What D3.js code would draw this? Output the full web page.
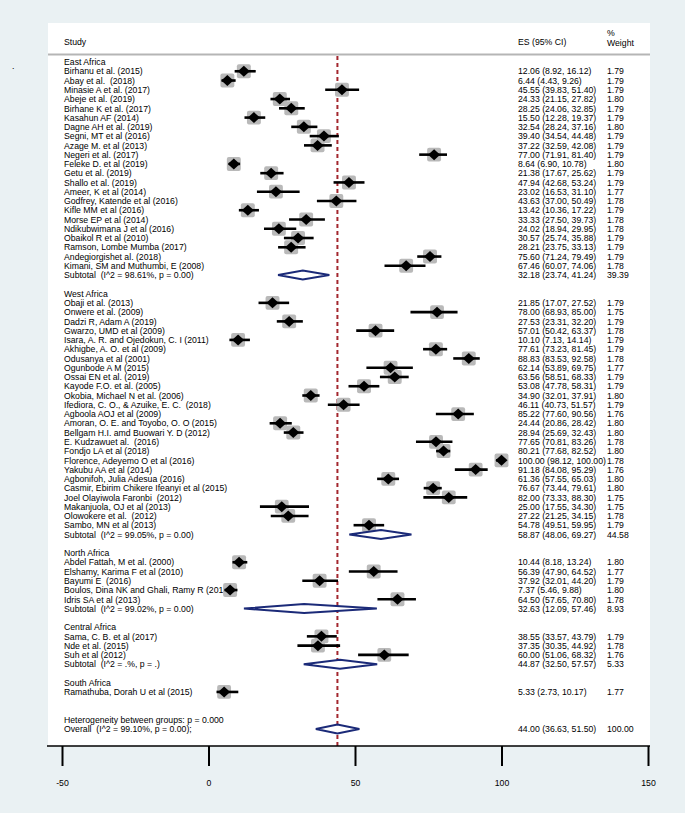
<!DOCTYPE html>
<html>
<head>
<meta charset="utf-8">
<script src="https://cdn.jsdelivr.net/npm/d3@7"></script>
<style>
  body { margin: 0; background: #eaf1f3; }
  text { font-family: "Liberation Sans", Arial, sans-serif; font-size: 8.7px; fill: #000; white-space: pre; }
</style>
</head>
<body>
<svg width="685" height="813"></svg>
<script>
// region headings and how many studies sit under each
var groups = ["East Africa", "West Africa", "North Africa", "Central Africa", "South Africa"];
var groupSizes = [22, 25, 5, 3, 1];

// study labels, in plot order
var studies = [
  "Birhanu et al. (2015)", "Abay et al.  (2018)", "Minasie A et al. (2017)", "Abeje et al. (2019)",
  "Birhane K et al. (2017)", "Kasahun AF (2014)", "Dagne AH et al. (2019)", "Segni, MT et al (2016)",
  "Azage M. et al (2013)", "Negeri et al. (2017)", "Feleke D. et al (2019)", "Getu et al. (2019)",
  "Shallo et al. (2019)", "Ameer, K et al (2014)", "Godfrey, Katende et al (2016)", "Kifle MM et al (2016)",
  "Morse EP et al (2014)", "Ndikubwimana J et al (2016)", "Obaikol R et al (2010)", "Ramson, Lombe Mumba (2017)",
  "Andegiorgishet al. (2018)", "Kimani, SM and Muthumbi, E (2008)",
  "Obaji et al. (2013)", "Onwere et al. (2009)", "Dadzi R, Adam A (2019)", "Gwarzo, UMD et al (2009)",
  "Isara, A. R. and Ojedokun, C. I (2011)", "Akhigbe, A. O. et al (2009)", "Odusanya et al (2001)",
  "Ogunbode A M (2015)", "Ossai EN et al. (2019)", "Kayode F.O. et al. (2005)", "Okobia, Michael N et al. (2006)",
  "Ifediora, C. O., & Azuike, E. C.  (2018)", "Agboola AOJ et al (2009)", "Amoran, O. E. and Toyobo, O. O (2015)",
  "Bellgam H.I. amd Buowari Y. D (2012)", "E. Kudzawuet al.  (2016)", "Fondjo LA et al (2018)",
  "Florence, Adeyemo O et al (2016)", "Yakubu AA et al (2014)", "Agbonifoh, Julia Adesua (2016)",
  "Casmir, Ebirim Chikere Ifeanyi et al (2015)", "Joel Olayiwola Faronbi  (2012)", "Makanjuola, OJ et al (2013)",
  "Olowokere et al.  (2012)", "Sambo, MN et al (2013)",
  "Abdel Fattah, M et al. (2000)", "Elshamy, Karima F et al (2010)", "Bayumi E  (2016)",
  "Boulos, Dina NK and Ghali, Ramy R (2013)", "Idris SA et al (2013)",
  "Sama, C. B. et al (2017)", "Nde et al. (2015)", "Suh et al (2012)",
  "Ramathuba, Dorah U et al (2015)"
];
var es = [12.06, 6.44, 45.55, 24.33, 28.25, 15.50, 32.54, 39.40, 37.22, 77.00, 8.64, 21.38, 47.94, 23.02, 43.63, 13.42,
  33.33, 24.02, 30.57, 28.21, 75.60, 67.46,
  21.85, 78.00, 27.53, 57.01, 10.10, 77.61, 88.83, 62.14, 63.56, 53.08, 34.90, 46.11, 85.22, 24.44, 28.94, 77.65,
  80.21, 100.00, 91.18, 61.36, 76.67, 82.00, 25.00, 27.22, 54.78,
  10.44, 56.39, 37.92, 7.37, 64.50,
  38.55, 37.35, 60.00,
  5.33];
var lo = [8.92, 4.43, 39.83, 21.15, 24.06, 12.28, 28.24, 34.54, 32.59, 71.91, 6.90, 17.67, 42.68, 16.53, 37.00, 10.36,
  27.50, 18.94, 25.74, 23.75, 71.24, 60.07,
  17.07, 68.93, 23.31, 50.42, 7.13, 73.23, 83.53, 53.89, 58.51, 47.78, 32.01, 40.73, 77.60, 20.86, 25.69, 70.81,
  77.68, 98.12, 84.08, 57.55, 73.44, 73.33, 17.55, 21.25, 49.51,
  8.18, 47.90, 32.01, 5.46, 57.65,
  33.57, 30.35, 51.06,
  2.73];
var hi = [16.12, 9.26, 51.40, 27.82, 32.85, 19.37, 37.16, 44.48, 42.08, 81.40, 10.78, 25.62, 53.24, 31.10, 50.49, 17.22,
  39.73, 29.95, 35.88, 33.13, 79.49, 74.06,
  27.52, 85.00, 32.20, 63.37, 14.14, 81.45, 92.58, 69.75, 68.33, 58.31, 37.91, 51.57, 90.56, 28.42, 32.43, 83.26,
  82.52, 100.00, 95.29, 65.03, 79.61, 88.30, 34.30, 34.15, 59.95,
  13.24, 64.52, 44.20, 9.88, 70.80,
  43.79, 44.92, 68.32,
  10.17];
var weight = [1.79, 1.79, 1.79, 1.80, 1.79, 1.79, 1.80, 1.79, 1.79, 1.79, 1.80, 1.79, 1.79, 1.77, 1.78, 1.79,
  1.78, 1.78, 1.79, 1.79, 1.79, 1.78,
  1.79, 1.75, 1.79, 1.78, 1.79, 1.79, 1.78, 1.77, 1.79, 1.79, 1.80, 1.79, 1.76, 1.80, 1.80, 1.78,
  1.80, 1.78, 1.76, 1.80, 1.80, 1.75, 1.75, 1.78, 1.79,
  1.80, 1.77, 1.79, 1.80, 1.78,
  1.79, 1.78, 1.76,
  1.77];

// subgroup pooled estimates (South Africa has a single study, no subtotal)
var subLabels = ["Subtotal  (I^2 = 98.61%, p = 0.00)", "Subtotal  (I^2 = 99.05%, p = 0.00)",
  "Subtotal  (I^2 = 99.02%, p = 0.00)", "Subtotal  (I^2 = .%, p = .)", null];
var subES = [32.18, 58.87, 32.63, 44.87, null];
var subLo = [23.74, 48.06, 12.09, 32.50, null];
var subHi = [41.24, 69.27, 57.46, 57.57, null];
var subW = [39.39, 44.58, 8.93, 5.33, null];

var hetLabel = "Heterogeneity between groups: p = 0.000";
var overallLabel = "Overall  (I^2 = 99.10%, p = 0.00);";
var overall = [44.00, 36.63, 51.50, 100.00];

var xTicks = [-50, 0, 50, 100, 150];

var svg = d3.select("svg");
var navy = "#1b2a78";

// build the row list
var rows = [];
var r = 0, k = 0;
groups.forEach(function(g, gi) {
  rows.push({type: "group", label: g, i: r++});
  for (var j = 0; j < groupSizes[gi]; j++, k++) {
    rows.push({type: "study", label: studies[k], es: es[k], lo: lo[k], hi: hi[k], w: weight[k], i: r++});
  }
  if (subLabels[gi]) {
    rows.push({type: "sub", label: subLabels[gi], es: subES[gi], lo: subLo[gi], hi: subHi[gi], w: subW[gi], i: r++});
  }
  r++;
});
r++;
rows.push({type: "het", label: hetLabel, i: r++});
rows.push({type: "overall", label: overallLabel, es: overall[0], lo: overall[1], hi: overall[2], w: overall[3], i: r++});

var y = d3.scaleLinear().domain([0, 72]).range([62, 729]);
var x = d3.scaleLinear().domain([-50, 150]).range([62, 648]);

// background panel
svg.append("rect").attr("width", 685).attr("height", 813).attr("fill", "#eaf1f3");
svg.append("rect").attr("x", 48).attr("y", 23).attr("width", 602).attr("height", 723).attr("fill", "#fff");
svg.append("text").attr("x", 12).attr("y", 69).text(".");

// header
svg.append("text").attr("x", 64).attr("y", 45).text("Study");
svg.append("text").attr("x", 518).attr("y", 45).text("ES (95% CI)");
svg.append("text").attr("x", 607).attr("y", 35.5).text("%");
svg.append("text").attr("x", 607).attr("y", 46).text("Weight");
svg.append("line").attr("x1", 48).attr("x2", 650).attr("y1", 54.5).attr("y2", 54.5)
  .attr("stroke", "#b5b5b5").attr("stroke-width", 2);

// overall reference line
svg.append("line")
  .attr("x1", x(overall[0])).attr("x2", x(overall[0]))
  .attr("y1", 56).attr("y2", 746)
  .attr("stroke", "#a3262e").attr("stroke-width", 2).attr("stroke-dasharray", "4,3");

var fmt = d3.format(".2f");

// text columns
var txt = svg.append("g");
rows.forEach(function(d) {
  var yy = y(d.i) + 3.2;
  txt.append("text").attr("x", 64).attr("y", yy).text(d.label);
  if (d.es != null) {
    txt.append("text").attr("x", 518).attr("y", yy)
      .text(fmt(d.es) + " (" + fmt(d.lo) + ", " + fmt(d.hi) + ")");
    txt.append("text").attr("x", 607).attr("y", yy).text(fmt(d.w));
  }
});

// study markers
var st = rows.filter(d => d.type == "study");
var marks = svg.append("g");
marks.selectAll(".box").data(st).enter().append("rect")
  .attr("class", "box")
  .attr("x", d => x(d.es) - 10.4 * Math.sqrt(d.w) / 2)
  .attr("y", d => y(d.i) - 10.4 * Math.sqrt(d.w) / 2)
  .attr("width", d => 10.4 * Math.sqrt(d.w))
  .attr("height", d => 10.4 * Math.sqrt(d.w))
  .attr("rx", 2)
  .attr("fill", "#b9b9b9");
marks.selectAll(".ci").data(st).enter().append("line")
  .attr("class", "ci")
  .attr("x1", d => x(d.lo)).attr("x2", d => x(d.hi))
  .attr("y1", d => y(d.i)).attr("y2", d => y(d.i))
  .attr("stroke", "#000").attr("stroke-width", 2.6);
marks.selectAll(".pt").data(st).enter().append("path")
  .attr("class", "pt")
  .attr("d", d => "M" + (x(d.es) - 6) + "," + y(d.i) + "L" + x(d.es) + "," + (y(d.i) - 5.5) +
    "L" + (x(d.es) + 6) + "," + y(d.i) + "L" + x(d.es) + "," + (y(d.i) + 5.5) + "Z")
  .attr("fill", "#000");

// pooled diamonds
var pooled = rows.filter(d => d.type == "sub" || d.type == "overall");
marks.selectAll(".pool").data(pooled).enter().append("path")
  .attr("class", "pool")
  .attr("d", d => "M" + x(d.lo) + "," + y(d.i) + "L" + x(d.es) + "," + (y(d.i) - 4.5) +
    "L" + x(d.hi) + "," + y(d.i) + "L" + x(d.es) + "," + (y(d.i) + 4.5) + "Z")
  .attr("fill", "#fff").attr("stroke", navy).attr("stroke-width", 2);

// x axis
svg.append("line").attr("x1", 47).attr("x2", 650).attr("y1", 746).attr("y2", 746)
  .attr("stroke", "#000").attr("stroke-width", 1.6);
var ax = svg.append("g").attr("transform", "translate(0,746)")
  .call(d3.axisBottom(x).tickValues(xTicks).tickSize(20).tickPadding(14).tickFormat(d => String(d)));
ax.select(".domain").remove();
ax.selectAll(".tick line").attr("stroke", "#000").attr("stroke-width", 2);
ax.selectAll(".tick text").style("font-family", "'Liberation Sans', Arial, sans-serif").style("font-size", "8.7px");
</script>
</body>
</html>
